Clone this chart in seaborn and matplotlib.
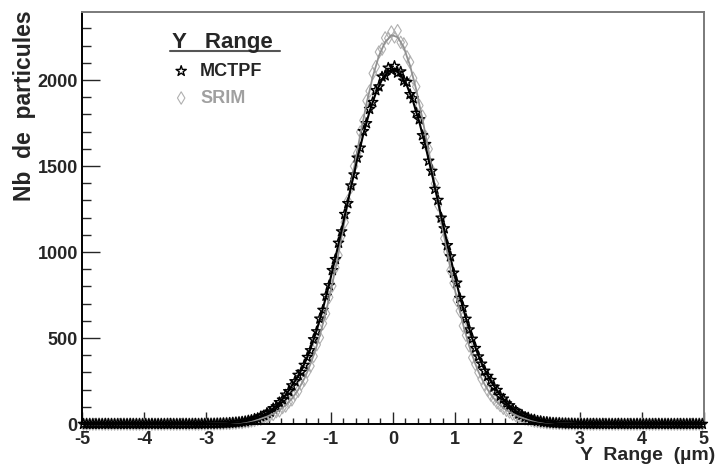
import matplotlib
matplotlib.use('Agg')
import matplotlib.pyplot as plt
import numpy as np
import pandas as pd
import seaborn as sns
from matplotlib.ticker import MultipleLocator

# bin centres (0.05 um bins from -5 to 5)
bin_centres = np.round(np.arange(-4.975, 5.0, 0.05), 3)

# counts, left half (-4.975 .. -0.025) and right half (0.025 .. 4.975)
mctpf_left = [0, 0, 0, 0, 0, 0, 0, 1, 0, 0, 0, 0, 0, 0, 0, 1, 0, 0, 0, 0,
              0, 0, 1, 0, 0, 0, 0, 0, 1, 0, 0, 0, 0, 1, 0, 0, 1, 0, 1, 1,
              2, 1, 2, 2, 3, 4, 4, 6, 7, 9, 10, 13, 15, 20, 23, 30, 34, 44, 50, 64,
              71, 91, 102, 126, 141, 170, 190, 224, 248, 285,
              302, 343, 389, 428, 492, 538, 612, 663, 745, 806,
              894, 958, 1053, 1119, 1220, 1283, 1386, 1450, 1548, 1606,
              1702, 1748, 1831, 1871, 1940, 1962, 2019, 2026, 2071, 2058]
mctpf_right = [2081, 2042, 2049, 1996, 1988, 1917, 1893, 1808, 1771, 1678,
               1627, 1530, 1471, 1366, 1302, 1199, 1137, 1039, 974, 879,
               821, 732, 678, 611, 549, 495, 441, 392, 350, 309,
               279, 255, 216, 197, 163, 147, 119, 108, 86, 76,
               60, 53, 41, 37, 27, 25, 18, 16, 12, 11,
               8, 6, 5, 5, 3, 3, 2, 2, 1, 1, 1, 0, 1, 0, 1, 0, 0, 1, 0, 0,
               0, 0, 1, 0, 0, 0, 0, 0, 1, 0, 0, 0, 0, 0, 0, 1, 0, 0, 0, 0,
               0, 0, 0, 0, 0, 0, 1, 0, 0, 0]
srim_left = [0, 0, 0, 0, 0, 1, 0, 0, 0, 0, 0, 0, 0, 1, 0, 0, 0, 0, 0, 0,
             1, 0, 0, 0, 0, 0, 0, 1, 0, 0, 0, 0, 1, 0, 0, 1, 0, 0, 1, 1,
             1, 2, 1, 3, 2, 3, 4, 4, 6, 6, 9, 9, 13, 14, 18, 21, 27, 29, 38, 41,
             52, 56, 72, 77, 96, 105, 128, 141, 172, 191,
             231, 256, 305, 337, 394, 461, 503, 585, 642, 737,
             803, 909, 981, 1095, 1173, 1297, 1376, 1499, 1574, 1698,
             1765, 1880, 1936, 2039, 2078, 2163, 2180, 2245, 2243, 2279]
srim_right = [2251, 2287, 2219, 2210, 2135, 2104, 2011, 1962, 1852, 1790,
              1671, 1599, 1476, 1398, 1275, 1195, 1079, 1001, 893, 820,
              721, 658, 571, 516, 455, 386, 347, 300, 262, 226,
              195, 168, 146, 124, 108, 92, 80, 70, 58, 50,
              43, 37, 30, 26, 22, 17, 15, 12, 10, 8,
              7, 5, 5, 4, 3, 3, 2, 2, 1, 1, 1, 0, 1, 0, 0, 1, 0, 0, 0, 1,
              0, 0, 0, 1, 0, 0, 0, 0, 0, 0, 1, 0, 0, 0, 0, 0, 0, 1, 0, 0,
              0, 0, 0, 0, 0, 0, 0, 0, 1, 0]

df = pd.DataFrame({'y': bin_centres,
                   'MCTPF': mctpf_left + mctpf_right,
                   'SRIM': srim_left + srim_right})
# smooth curves through the points
df['MCTPF_fit'] = df['MCTPF'].rolling(5, center=True, min_periods=1).mean()
df['SRIM_fit'] = df['SRIM'].rolling(5, center=True, min_periods=1).mean()

sns.set_style('ticks')
plt.rcParams['font.family'] = ['Liberation Sans', 'DejaVu Sans']
plt.rcParams['font.weight'] = 'bold'
plt.rcParams['axes.unicode_minus'] = False

fig = plt.figure(figsize=(7.19, 4.66), dpi=100)
ax = fig.add_axes([0.114, 0.090, 0.865, 0.884])

sns.scatterplot(data=df, x='y', y='SRIM', marker='d', s=40, facecolor='none',
                edgecolor='#b0b0b0', linewidth=0.8, label='SRIM', clip_on=False,
                zorder=2, ax=ax)
sns.scatterplot(data=df, x='y', y='MCTPF', marker='*', s=60, facecolor='none',
                edgecolor='black', linewidth=1.0, label='MCTPF', clip_on=False,
                zorder=3, ax=ax)
sns.lineplot(data=df, x='y', y='SRIM_fit', color='#909090', lw=1.3, zorder=4,
             legend=False, ax=ax)
sns.lineplot(data=df, x='y', y='MCTPF_fit', color='black', lw=1.5, zorder=5,
             legend=False, ax=ax)

ax.set_xlim(-5, 5)
ax.set_ylim(0, 2395)
ax.xaxis.set_major_locator(MultipleLocator(1))
ax.xaxis.set_minor_locator(MultipleLocator(0.2))
ax.yaxis.set_major_locator(MultipleLocator(500))
ax.yaxis.set_minor_locator(MultipleLocator(100))
ax.tick_params(which='both', direction='in', width=1.0, labelsize=13)
ax.tick_params(axis='x', which='major', length=8.5, pad=5)
ax.tick_params(axis='x', which='minor', length=4.5)
ax.tick_params(axis='y', which='major', length=13, pad=3)
ax.tick_params(axis='y', which='minor', length=6.5)
for s in ['left', 'bottom']:
    ax.spines[s].set_color('black')
    ax.spines[s].set_linewidth(1.4)
for s in ['top', 'right']:
    ax.spines[s].set_color('#7a7a7a')
    ax.spines[s].set_linewidth(1.4)

ax.set_xlabel('Y  Range  (µm)', fontsize=14, fontweight='bold', ha='right', va='center')
ax.xaxis.set_label_coords(1.018, -0.077)
ax.set_ylabel('Nb  de  particules', fontsize=16.5, fontweight='bold',
              ha='right', va='center', rotation_mode='anchor')
ax.yaxis.set_label_coords(-0.092, 1.005)

handles, labels = ax.get_legend_handles_labels()
order = [labels.index('MCTPF'), labels.index('SRIM')]
leg = ax.legend([handles[i] for i in order], ['MCTPF', 'SRIM'], title='Y   Range',
                loc='upper left', bbox_to_anchor=(0.145, 0.952), frameon=False,
                borderaxespad=0, borderpad=0, alignment='left',
                prop={'weight': 'bold', 'size': 13},
                title_fontproperties={'weight': 'bold', 'size': 16},
                handletextpad=0.55, handlelength=1.0, labelspacing=0.55)
leg.get_texts()[1].set_color('#a0a0a0')
# line under the legend title
ax.plot([0.141, 0.318], [0.905, 0.905], transform=ax.transAxes, color='#555555',
        lw=1.5, clip_on=False)

fig.savefig('out.png', dpi=100)
